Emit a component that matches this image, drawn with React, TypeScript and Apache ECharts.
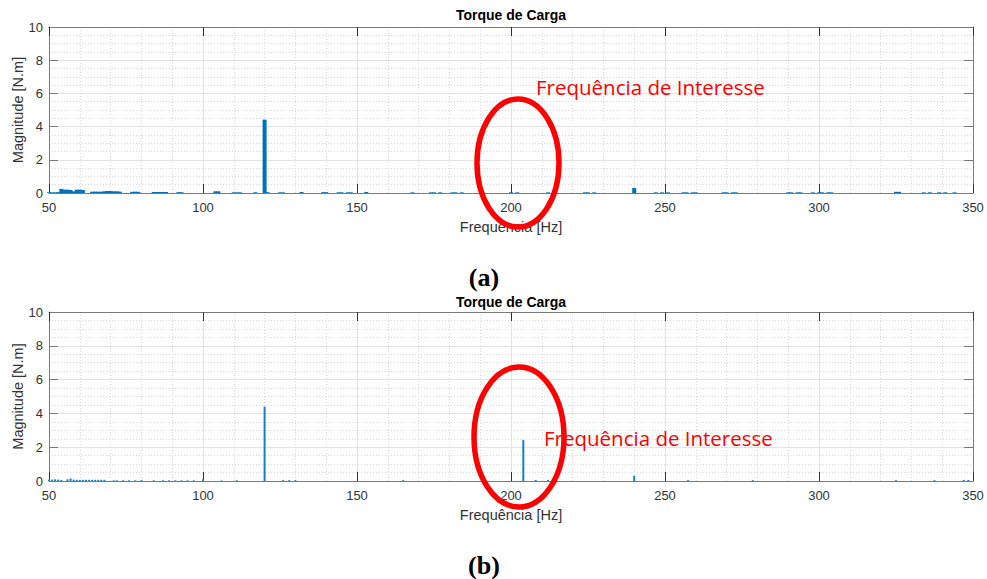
import React, { useEffect, useRef } from "react";
import * as echarts from "echarts";

// ---- Data ----
const xTicks = [50, 100, 150, 200, 250, 300, 350];
const yTicks = [0, 2, 4, 6, 8, 10];

// (a) spectrum – wide bars
const topFreq = [50, 51, 52, 53, 54, 55, 56, 57, 58, 59, 60, 61, 64, 65, 66, 67, 68, 69, 70, 71, 72, 73, 77, 78, 79, 84, 85, 86, 87, 88, 92, 93, 104, 105, 110, 111, 112, 117, 120, 121, 125, 126, 132, 139, 140, 144, 145, 147, 148, 153, 168, 174, 175, 177, 181, 182, 184, 200, 202, 212, 224, 225, 227, 240, 247, 249, 251, 256, 257, 259, 260, 269, 270, 272, 273, 290, 291, 293, 294, 298, 300, 301, 303, 304, 325, 326, 334, 336, 339, 341, 344];
const topMag = [0.04, 0.04, 0.04, 0.05, 0.25, 0.2, 0.2, 0.18, 0.1, 0.2, 0.2, 0.18, 0.08, 0.08, 0.08, 0.08, 0.1, 0.12, 0.12, 0.1, 0.1, 0.08, 0.07, 0.08, 0.07, 0.06, 0.06, 0.06, 0.06, 0.06, 0.05, 0.05, 0.1, 0.1, 0.04, 0.04, 0.04, 0.05, 4.42, 0.05, 0.04, 0.04, 0.06, 0.05, 0.05, 0.04, 0.04, 0.04, 0.04, 0.06, 0.04, 0.04, 0.04, 0.04, 0.04, 0.04, 0.04, 0.04, 0.04, 0.04, 0.04, 0.04, 0.04, 0.3, 0.04, 0.04, 0.04, 0.04, 0.04, 0.04, 0.04, 0.04, 0.04, 0.04, 0.04, 0.04, 0.04, 0.04, 0.04, 0.04, 0.04, 0.04, 0.04, 0.04, 0.07, 0.07, 0.04, 0.04, 0.04, 0.04, 0.04];

// (b) spectrum – thin stems
const botFreq = [50, 51, 52, 53, 54, 56, 57, 58, 59, 60, 61, 62, 63, 64, 65, 66, 67, 68, 71, 72, 74, 76, 78, 80, 84, 87, 89, 91, 93, 95, 97, 100, 106, 111, 120, 126, 128, 130, 165, 204, 208, 212, 240, 257.5, 278.5, 325, 337.5, 347, 348.5];
const botMag = [0.08, 0.08, 0.1, 0.08, 0.06, 0.1, 0.15, 0.08, 0.07, 0.07, 0.07, 0.07, 0.07, 0.07, 0.07, 0.07, 0.07, 0.07, 0.04, 0.04, 0.04, 0.04, 0.04, 0.05, 0.04, 0.04, 0.04, 0.04, 0.04, 0.04, 0.04, 0.1, 0.03, 0.04, 4.4, 0.05, 0.05, 0.05, 0.05, 2.42, 0.06, 0.06, 0.31, 0.05, 0.05, 0.04, 0.05, 0.06, 0.06];

const chartTitle = "Torque de Carga";
const xName = "Frequência [Hz]";
const yName = "Magnitude [N.m]";
const noteText = "Frequência de Interesse";
const panelLabels = ["(a)", "(b)"];

const BLUE = "#0072BD";
const AX = "#7a7a7a";
const TXT = "#333333";
const FONT = "Liberation Sans";

function App() {
  const ref = useRef<HTMLDivElement>(null);
  useEffect(() => {
    if (!ref.current) return;
    const chart = echarts.init(ref.current, undefined, { renderer: "svg" });

    const grids = [
      { left: 49, right: 14, top: 27, height: 166, outerBoundsMode: "none", containLabel: false },
      { left: 49, right: 14, top: 312, height: 169, outerBoundsMode: "none", containLabel: false },
    ];

    const xMin = xTicks[0];
    const xMax = xTicks[xTicks.length - 1];
    const xInt = xTicks[1] - xTicks[0];
    const yMin = yTicks[0];
    const yMax = yTicks[yTicks.length - 1];
    const yInt = yTicks[1] - yTicks[0];

    const xAxes: any[] = [];
    const yAxes: any[] = [];
    grids.forEach((_, i) => {
      xAxes.push({
        type: "value",
        gridIndex: i,
        min: xMin,
        max: xMax,
        interval: xInt,
        position: "bottom",
        name: xName,
        nameLocation: "middle",
        nameGap: 26,
        nameTextStyle: { color: TXT, fontSize: 14.5, fontFamily: FONT },
        axisLine: { show: true, lineStyle: { color: AX, width: 1 } },
        axisTick: { show: true, inside: true, length: 9, lineStyle: { color: "#333" } },
        axisLabel: { color: TXT, fontSize: 13, fontFamily: FONT, margin: 8 },
        splitLine: { show: true, lineStyle: { color: "#e3e3e3", width: 1 } },
        minorTick: { show: false, splitNumber: 5 },
        minorSplitLine: { show: true, lineStyle: { color: "#d9d9d9", width: 1, type: [1, 2] } },
      });
      xAxes.push({
        type: "value",
        gridIndex: i,
        min: xMin,
        max: xMax,
        interval: xInt,
        position: "top",
        axisLine: { show: true, onZero: false, lineStyle: { color: AX, width: 1 } },
        axisTick: { show: true, inside: true, length: 9, lineStyle: { color: "#333" } },
        axisLabel: { show: false },
        splitLine: { show: false },
      });
      yAxes.push({
        type: "value",
        gridIndex: i,
        min: yMin,
        max: yMax,
        interval: yInt,
        position: "left",
        name: yName,
        nameLocation: "middle",
        nameGap: 24,
        nameMoveOverlap: false,
        nameTextStyle: { color: TXT, fontSize: 14.5, fontFamily: FONT },
        axisLine: { show: true, lineStyle: { color: AX, width: 1 } },
        axisTick: { show: true, inside: true, length: 9, lineStyle: { color: AX } },
        axisLabel: { color: TXT, fontSize: 13, fontFamily: FONT, margin: 6 },
        splitLine: { show: true, lineStyle: { color: "#e3e3e3", width: 1 } },
        minorTick: { show: false, splitNumber: 4 },
        minorSplitLine: { show: true, lineStyle: { color: "#d9d9d9", width: 1, type: [1, 2] } },
      });
      yAxes.push({
        type: "value",
        gridIndex: i,
        min: yMin,
        max: yMax,
        interval: yInt,
        position: "right",
        axisLine: { show: true, onZero: false, lineStyle: { color: AX, width: 1 } },
        axisTick: { show: true, inside: true, length: 9, lineStyle: { color: AX } },
        axisLabel: { show: false },
        splitLine: { show: false },
      });
    });

    const topData = topFreq.map((f, i) => [f, topMag[i]]);
    const botData = botFreq.map((f, i) => [f, botMag[i]]);

    const ellipseStyle = { fill: "none", stroke: "#ff0000", lineWidth: 5.5 };
    const noteStyle = {
      fill: "#ff0000",
      fontSize: 20.5,
      fontFamily: "Open Sans",
      align: "left",
      verticalAlign: "middle",
    };
    const panelStyle = {
      fill: "#000",
      fontSize: 26,
      fontWeight: "bold",
      fontFamily: "Liberation Serif",
      align: "center",
      verticalAlign: "middle",
    };
    const titleStyle = { fontSize: 14, fontWeight: "bold", color: "#000", fontFamily: FONT };

    chart.setOption({
      animation: false,
      backgroundColor: "#ffffff",
      title: [
        { text: chartTitle, left: 511, top: 8, padding: 0, textAlign: "center", textStyle: titleStyle },
        { text: chartTitle, left: 511, top: 295, padding: 0, textAlign: "center", textStyle: titleStyle },
      ],
      grid: grids,
      xAxis: xAxes,
      yAxis: yAxes,
      series: [
        {
          type: "bar",
          xAxisIndex: 0,
          yAxisIndex: 0,
          data: topData,
          barWidth: 4,
          itemStyle: { color: BLUE },
          z: 3,
        },
        {
          type: "bar",
          xAxisIndex: 2,
          yAxisIndex: 2,
          data: botData,
          barWidth: 2,
          itemStyle: { color: "#1a7fc6" },
          z: 3,
        },
      ],
      graphic: [
        { type: "ellipse", shape: { cx: 518, cy: 163, rx: 41, ry: 64 }, style: ellipseStyle, z: 100 },
        { type: "ellipse", shape: { cx: 519, cy: 437, rx: 45, ry: 70 }, style: ellipseStyle, z: 100 },
        { type: "text", x: 536, y: 87, style: { ...noteStyle, text: noteText }, z: 101 },
        { type: "text", x: 544, y: 438, style: { ...noteStyle, text: noteText }, z: 101 },
        { type: "text", x: 484, y: 277, style: { ...panelStyle, text: panelLabels[0] }, z: 101 },
        { type: "text", x: 484, y: 565, style: { ...panelStyle, text: panelLabels[1] }, z: 101 },
      ],
    });

    return () => chart.dispose();
  }, []);

  return (
    <div
      ref={ref}
      style={{ position: "fixed", left: 0, top: 0, width: 987, height: 579, background: "#fff" }}
    />
  );
}

export default App;
